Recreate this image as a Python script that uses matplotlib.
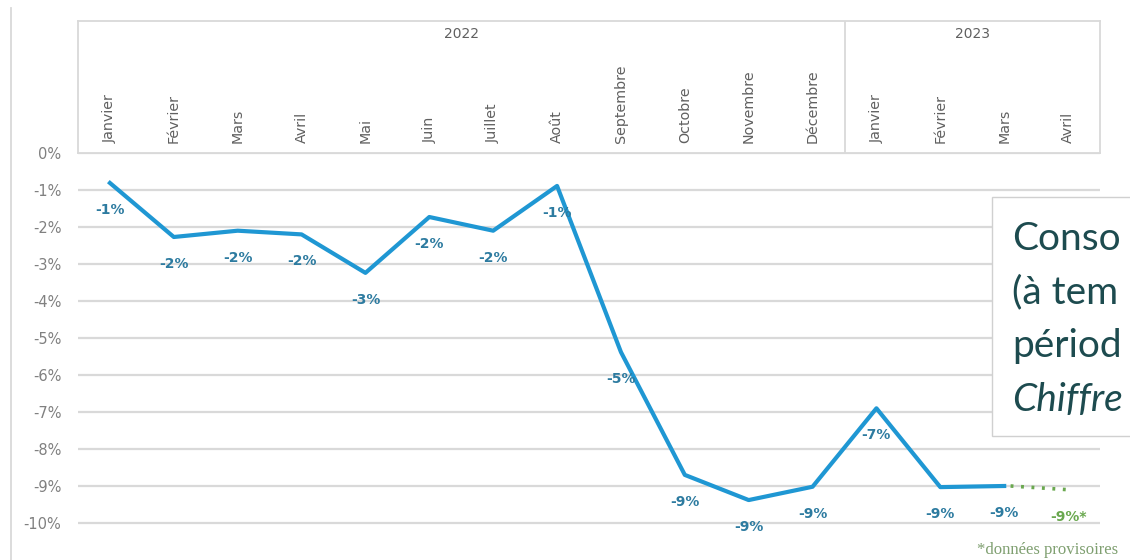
import matplotlib
matplotlib.use("Agg")
import matplotlib.pyplot as plt
from matplotlib.patches import Rectangle
from matplotlib.lines import Line2D

# ---------------- data ----------------
months = ["Janvier", "Février", "Mars", "Avril", "Mai", "Juin", "Juillet", "Août",
          "Septembre", "Octobre", "Novembre", "Décembre",
          "Janvier", "Février", "Mars", "Avril"]
years = ["2022", "2023"]
year_month_counts = [12, 4]
values = [-0.81, -2.27, -2.10, -2.20, -3.24, -1.73, -2.10, -0.89,
          -5.38, -8.70, -9.38, -9.02, -6.90, -9.03, -9.00]
provisional_value = -9.10
provisional_label = "-9%*"
yticks = [0, -1, -2, -3, -4, -5, -6, -7, -8, -9, -10]
# the text box is cropped by the picture's right edge: only these parts are visible
box_lines = ["Conso", "(à tem", "périod", "Chiffre"]
footnote = "*données provisoires"

# ---------------- style ----------------
plt.rcParams['font.family'] = ['DejaVu Sans']
W, H = 1130, 560
fig = plt.figure(figsize=(W / 100, H / 100), dpi=100)
fig.patch.set_facecolor('white')

def fx(px):
    return px / W

def fy(py):
    return 1 - py / H

GRID = '#d9d9d9'
BLUE = '#1f97d3'
LABEL = '#2d7ba0'
GREEN = '#6aa84f'
TICK = '#808080'
HEAD = '#606060'

n = len(months)
x_all = list(range(n))

# main plot axes
x0, x1 = 78, 1100
ytop, ybot = 153, 541.5
ax = fig.add_axes([fx(x0), fy(ybot), fx(x1) - fx(x0), fy(ytop) - fy(ybot)])
ax.set_xlim(-0.5, n - 0.5)
ax.set_ylim(-10.5, 0)
for s in ax.spines.values():
    s.set_visible(False)
ax.set_xticks([])
ax.set_yticks(yticks)
ax.set_yticklabels([f"{v}%" for v in yticks], color=TICK, fontsize=10.5)
ax.tick_params(axis='y', length=0, pad=12)
ax.yaxis.grid(True, color=GRID, lw=1.6)
ax.set_axisbelow(True)
ax.patch.set_alpha(0)

xs = x_all[:len(values)]
ax.plot(xs, values, color=BLUE, lw=3.0, solid_joinstyle='round', zorder=3)
ax.plot([xs[-1] + 0.1, n - 1], [values[-1], provisional_value], color=GREEN,
        lw=2.6, ls=(0, (0.8, 2.1)), zorder=3)

for xi, v in zip(xs, values):
    ax.annotate(f"{round(v):d}%", (xi, v), xytext=(0, -19.5), textcoords='offset points',
                ha='center', va='center', color=LABEL, fontsize=10, fontweight='bold',
                zorder=4)
ax.annotate(provisional_label, (n - 1, provisional_value), xytext=(0, -19.5),
            textcoords='offset points', ha='center', va='center', color=GREEN,
            fontsize=10, fontweight='bold', zorder=4)

# header axes (month / year labels)
hy0, hy1 = 21, 153
hax = fig.add_axes([fx(x0), fy(hy1), fx(x1) - fx(x0), fy(hy0) - fy(hy1)])
hax.set_xlim(-0.5, n - 0.5)
hax.set_ylim(0, 1)
hax.set_xticks([])
hax.set_yticks([])
for s in hax.spines.values():
    s.set_color(GRID)
    s.set_linewidth(1.3)
hax.patch.set_alpha(0)
for i, m in enumerate(months):
    hax.text(i, 0.075, m, rotation=90, ha='center', va='bottom', color=HEAD,
             fontsize=10.3)
start = 0
for k, (yr, cnt) in enumerate(zip(years, year_month_counts)):
    center = start + (cnt - 1) / 2
    hax.text(center, 0.905, yr, ha='center', va='center', color=HEAD, fontsize=10)
    if k < len(years) - 1:
        hax.axvline(start + cnt - 0.5, color=GRID, lw=1.3)
    start += cnt

# left slide border line
fig.add_artist(Line2D([fx(11), fx(11)], [fy(8), fy(560)], color=GRID, lw=1.3))

# overlay text box (cropped at the right edge)
box = Rectangle((fx(992), fy(436)), fx(1200) - fx(992), fy(197) - fy(436),
                transform=fig.transFigure, facecolor='white', edgecolor='#d0d0d0',
                lw=1.0, zorder=10)
fig.add_artist(box)
baselines = [250, 303, 357, 411]
for i, (txt, yy) in enumerate(zip(box_lines, baselines)):
    fig.text(fx(1012), fy(yy), txt, ha='left', va='baseline', fontsize=28,
             color='#1d4b4f', family=['Lato', 'DejaVu Sans'],
             style='italic' if i == len(box_lines) - 1 else 'normal', zorder=11)

# footnote
fig.text(fx(977), fy(550), footnote, ha='left', va='center', fontsize=12,
         color='#7f9f70', family=['Liberation Serif', 'DejaVu Serif'], zorder=11)

fig.savefig("out.png", dpi=100)
